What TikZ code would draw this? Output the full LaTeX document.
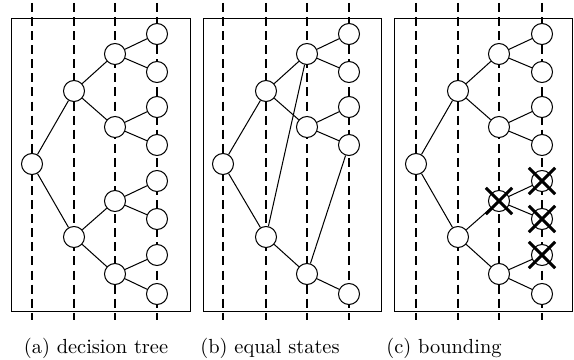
\documentclass[tikz,border=0pt]{standalone}
\usepackage{tikz}
\usetikzlibrary{positioning,shapes.misc}
\tikzset{
  frame/.style={draw=black, line width=0.45pt},
  level/.style={draw=black, line width=1.2pt, dash pattern=on 4.4pt off 2.5pt},
  state/.style={circle, draw=black, fill=white, line width=0.5pt, minimum size=10.3pt, inner sep=0pt},
  branch/.style={draw=black, line width=0.5pt},
  cutmark/.style={cross out, draw=black, line width=1.4pt, minimum size=11.5pt, inner sep=0pt},
  caption/.style={font=\normalsize, inner sep=0pt}
}

\begin{document}
\begin{tikzpicture}[x=0.49pt, y=-0.49pt]
\useasboundingbox (0,0) rectangle (574,360);
% (a) decision tree
\begin{scope}[name prefix=a-]
\draw[frame] (11,18) rectangle (190,311);
\foreach \x in {32,74,115,157} \draw[level] (\x,3) -- (\x,320);
\node[state] (r) at (32,164) {};
\node[state] (u1) at (74,91) {};
\node[state] (u2) at (74,237) {};
\node[state] (m1) at (115,54) {};
\node[state] (m2) at (115,127) {};
\node[state] (m3) at (115,201) {};
\node[state] (m4) at (115,274) {};
\foreach \y [count=\i] in {34,72,107,145,181,219,255,294}
  \node[state] (l\i) at (157,\y) {};
\draw[branch] (r) -- (u1) (r) -- (u2);
\draw[branch] (u1) -- (m1) (u1) -- (m2) (u2) -- (m3) (u2) -- (m4);
\draw[branch] (m1) -- (l1) (m1) -- (l2) (m2) -- (l3) (m2) -- (l4);
\draw[branch] (m3) -- (l5) (m3) -- (l6) (m4) -- (l7) (m4) -- (l8);
\end{scope}
% (b) equal states
\begin{scope}[shift={(192,0)}, name prefix=b-]
\draw[frame] (11,18) rectangle (189,311);
\foreach \x in {31,74,115,157} \draw[level] (\x,3) -- (\x,320);
\node[state] (r) at (31,164) {};
\node[state] (u1) at (74,91) {};
\node[state] (u2) at (74,237) {};
\node[state] (m1) at (115,54) {};
\node[state] (m2) at (115,127) {};
\node[state] (m4) at (115,274) {};
\node[state] (l1) at (157,34) {};
\node[state] (l2) at (157,72) {};
\node[state] (l3) at (157,107) {};
\node[state] (l4) at (157,145) {};
\node[state] (l8) at (157,294) {};
\draw[branch] (r) -- (u1) (r) -- (u2);
\draw[branch] (u1) -- (m1) (u1) -- (m2) (u2) -- (m1) (u2) -- (m4);
\draw[branch] (m1) -- (l1) (m1) -- (l2) (m2) -- (l3) (m2) -- (l4);
\draw[branch] (m4) -- (l4) (m4) -- (l8);
\end{scope}
% (c) bounding
\begin{scope}[shift={(384,0)}, name prefix=c-]
\draw[frame] (10,18) rectangle (188,311);
\foreach \x in {32,74,115,158} \draw[level] (\x,3) -- (\x,320);
\node[state] (r) at (32,164) {};
\node[state] (u1) at (74,91) {};
\node[state] (u2) at (74,237) {};
\node[state] (m1) at (115,54) {};
\node[state] (m2) at (115,127) {};
\node[state] (m3) at (115,201) {};
\node[state] (m4) at (115,274) {};
\foreach \y [count=\i] in {34,72,107,145,181,219,255,294}
  \node[state] (l\i) at (158,\y) {};
\draw[branch] (r) -- (u1) (r) -- (u2);
\draw[branch] (u1) -- (m1) (u1) -- (m2) (u2) -- (m3) (u2) -- (m4);
\draw[branch] (m1) -- (l1) (m1) -- (l2) (m2) -- (l3) (m2) -- (l4);
\draw[branch] (m3) -- (l5) (m3) -- (l6) (m4) -- (l7) (m4) -- (l8);
\foreach \n in {m3,l5,l6,l7} \node[cutmark] (x-\n) at (\n) {};
\end{scope}
% captions
\node[caption] (capa) at (96,348) {(a) decision tree};
\node[caption] (capb) at (270,348) {(b) equal states};
\node[caption] (capc) at (444,348) {(c) bounding};
\end{tikzpicture}
\end{document}
